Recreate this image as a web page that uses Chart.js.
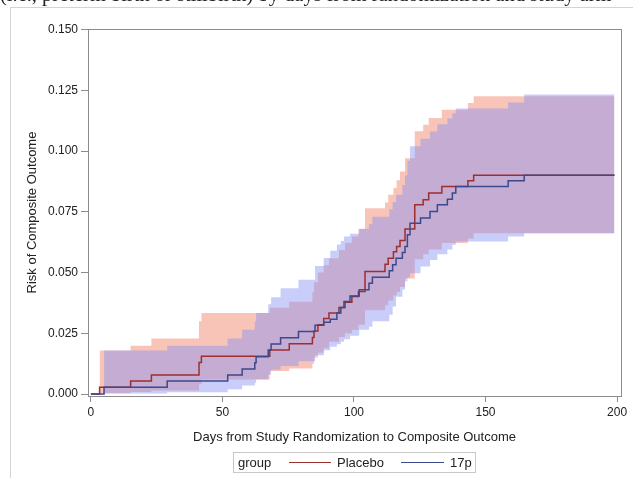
<!DOCTYPE html>
<html><head><meta charset="utf-8">
<script src="https://cdn.jsdelivr.net/npm/chart.js@4.4.1/dist/chart.umd.min.js"></script>
<style>
html,body{margin:0;padding:0;background:#fff;}
#wrap{position:relative;width:633px;height:478px;overflow:hidden;}
#c{position:absolute;left:0;top:0;}
#cap{position:absolute;left:0;top:-15px;white-space:nowrap;font:20.5px "Liberation Serif","Times New Roman",serif;color:#222;line-height:19px;}
#frameL{position:absolute;left:10px;top:7px;width:0;height:480px;border-left:1px solid #d4d4d4;}
#frameT{position:absolute;left:10px;top:7px;width:640px;height:0;border-top:1px solid #d4d4d4;background:#fff;}
#legend{position:absolute;left:233px;top:452px;width:241px;height:19px;border:1px solid #c8c8c8;font:13px "Liberation Sans",Arial,sans-serif;color:#222;}
#legend span{position:absolute;top:2px;}
#legend i{position:absolute;top:9px;height:0;border-top:1.5px solid;}
</style></head>
<body>
<div id="wrap">
<canvas id="c" width="633" height="478"></canvas>
<div id="cap">(i.e., preterm birth or stillbirth) by days from randomization and study arm</div>
<div id="frameL"></div><div id="frameT"></div>
<div id="legend">
<span style="left:4px">group</span>
<i style="left:55px;width:42px;border-color:#9e2f2f"></i>
<span style="left:103px">Placebo</span>
<i style="left:167px;width:43px;border-color:#3b4a8c"></i>
<span style="left:216px">17p</span>
</div>
</div>
<script>
// ---- data ----
const xTicks = [0, 50, 100, 150, 200];
const yTicks = [0, 0.025, 0.05, 0.075, 0.1, 0.125, 0.15];

const placeboDays = [0, 3.3, 15.1, 23, 41.1, 42, 68, 75.4, 84.2, 84.8, 86.3, 88.5, 90.5, 94.3, 96.6, 99.2, 101.7, 104.2, 111.8, 113, 115, 116.2, 117.5, 119.4, 123.1, 126.3, 128.4, 133.4, 143.3, 145.5, 199];
const placeboRisk = [0, 0.0028, 0.0054, 0.0078, 0.0130, 0.0156, 0.0181, 0.0207, 0.0233, 0.0259, 0.0285, 0.0311, 0.0333, 0.0356, 0.0378, 0.0401, 0.0422, 0.0504, 0.0534, 0.0559, 0.0586, 0.0607, 0.0632, 0.0679, 0.0779, 0.0799, 0.0827, 0.0854, 0.0878, 0.0900, 0.0900];
const placeboLower = [0, 0.0003, 0.0008, 0.0015, 0.0040, 0.0060, 0.0095, 0.0105, 0.0125, 0.0150, 0.0170, 0.0190, 0.0215, 0.0235, 0.0250, 0.0265, 0.0285, 0.0345, 0.0365, 0.0385, 0.0405, 0.0420, 0.0440, 0.0475, 0.0555, 0.0575, 0.0595, 0.0621, 0.0640, 0.0662, 0.0662];
const placeboUpper = [0, 0.0179, 0.0199, 0.0229, 0.0300, 0.0333, 0.0355, 0.0380, 0.0420, 0.0460, 0.0500, 0.0530, 0.0559, 0.0593, 0.0621, 0.0648, 0.0679, 0.0765, 0.0788, 0.0820, 0.0848, 0.0880, 0.0916, 0.0970, 0.1081, 0.1108, 0.1136, 0.1170, 0.1198, 0.1225, 0.1225];

const p17Days = [0, 5, 29, 52, 57.5, 62.3, 62.8, 67.4, 68.5, 72.1, 78.9, 85.2, 88.5, 91, 93.5, 95, 96.2, 98.5, 102, 105.7, 107, 113.4, 114.7, 116, 118.4, 119.4, 120.3, 121.3, 125.3, 128.9, 131.7, 135.5, 137.4, 138.7, 158.6, 164.7, 199];
const p17Risk = [0, 0.0028, 0.0054, 0.0078, 0.0103, 0.0129, 0.0154, 0.0181, 0.0206, 0.0232, 0.0257, 0.0283, 0.0295, 0.0308, 0.0333, 0.0356, 0.0381, 0.0403, 0.0429, 0.0456, 0.0481, 0.0507, 0.0532, 0.0559, 0.0582, 0.0607, 0.0655, 0.0703, 0.0724, 0.0751, 0.0779, 0.0802, 0.0827, 0.0854, 0.0878, 0.0900, 0.0900];
const p17Lower = [0, 0.0002, 0.0007, 0.0020, 0.0035, 0.0045, 0.0060, 0.0080, 0.0100, 0.0115, 0.0135, 0.0160, 0.0180, 0.0195, 0.0205, 0.0215, 0.0225, 0.0240, 0.0265, 0.0277, 0.0300, 0.0326, 0.0360, 0.0400, 0.0430, 0.0463, 0.0480, 0.0497, 0.0525, 0.0552, 0.0575, 0.0595, 0.0614, 0.0628, 0.0648, 0.0662, 0.0662];
const p17Upper = [0, 0.0179, 0.0199, 0.0229, 0.0265, 0.0300, 0.0333, 0.0370, 0.0398, 0.0435, 0.0470, 0.0527, 0.0560, 0.0590, 0.0615, 0.0630, 0.0648, 0.0660, 0.0680, 0.0700, 0.0730, 0.0760, 0.0790, 0.0820, 0.0860, 0.0900, 0.0960, 0.1020, 0.1050, 0.1080, 0.1110, 0.1135, 0.1155, 0.1175, 0.1200, 0.1232, 0.1232];

const placeboLine = '#9e2f2f';
const p17LineColor = '#3b4a8c';
const placeboFill = 'rgba(239,124,97,0.45)';
const p17Fill = 'rgba(133,144,244,0.45)';

function pts(xs, ys, from) {
  const out = [];
  for (let i = from; i < xs.length; i++) out.push({x: xs[i], y: ys[i]});
  return out;
}

const frame = {
  id: 'frame',
  afterDatasetsDraw(chart) {
    const a = chart.chartArea, ctx = chart.ctx;
    ctx.save();
    ctx.strokeStyle = '#8c8c8c';
    ctx.lineWidth = 1;
    ctx.strokeRect(Math.round(a.left) + 0.5, Math.round(a.top) + 0.5, Math.round(a.right - a.left), Math.round(a.bottom - a.top));
    ctx.restore();
  }
};

const tickFont = {family: '"Liberation Sans", Arial, sans-serif', size: 12};
const titleFont = {family: '"Liberation Sans", Arial, sans-serif', size: 13};

new Chart(document.getElementById('c'), {
  type: 'line',
  data: {
    datasets: [
      {label: 'Placebo upper', data: pts(placeboDays, placeboUpper, 1), stepped: 'before', borderWidth: 0, pointRadius: 0, fill: '+1', backgroundColor: placeboFill, order: 4},
      {label: 'Placebo lower', data: pts(placeboDays, placeboLower, 1), stepped: 'before', borderWidth: 0, pointRadius: 0, fill: false, order: 4},
      {label: '17p upper', data: pts(p17Days, p17Upper, 1), stepped: 'before', borderWidth: 0, pointRadius: 0, fill: '+1', backgroundColor: p17Fill, order: 3},
      {label: '17p lower', data: pts(p17Days, p17Lower, 1), stepped: 'before', borderWidth: 0, pointRadius: 0, fill: false, order: 3},
      {label: 'Placebo', data: pts(placeboDays, placeboRisk, 0), stepped: 'before', borderColor: placeboLine, borderWidth: 1.5, pointRadius: 0, fill: false, order: 1},
      {label: '17p', data: pts(p17Days, p17Risk, 0), stepped: 'before', borderColor: p17LineColor, borderWidth: 1.5, pointRadius: 0, fill: false, order: 0}
    ]
  },
  options: {
    responsive: false,
    animation: false,
    devicePixelRatio: 1,
    layout: {padding: {top: 29, right: 12, left: 0, bottom: 0}},
    plugins: {legend: {display: false}, tooltip: {enabled: false}},
    scales: {
      x: {
        type: 'linear', min: -1.1, max: 201.5,
        afterBuildTicks(s) { s.ticks = xTicks.map(v => ({value: v})); },
        afterFit(s) { s.height = 82; },
        grid: {drawOnChartArea: false, drawTicks: true, tickLength: 6, color: '#8c8c8c'},
        border: {display: true, color: '#8c8c8c'},
        ticks: {font: tickFont, color: '#222', padding: 3, maxRotation: 0},
        title: {display: true, text: 'Days from Study Randomization to Composite Outcome', font: titleFont, color: '#222', padding: {top: 0, bottom: 33}}
      },
      y: {
        min: -0.0008, max: 0.1502,
        afterBuildTicks(s) { s.ticks = yTicks.map(v => ({value: v})); },
        afterFit(s) { s.width = 88; },
        grid: {drawOnChartArea: false, drawTicks: true, tickLength: 7, color: '#8c8c8c'},
        border: {display: true, color: '#8c8c8c'},
        ticks: {font: tickFont, color: '#222', padding: 3, callback: v => v.toFixed(3)},
        title: {display: true, text: 'Risk of Composite Outcome', font: titleFont, color: '#222', padding: {top: 25, bottom: 0}}
      }
    }
  },
  plugins: [frame]
});
</script>
</body></html>
